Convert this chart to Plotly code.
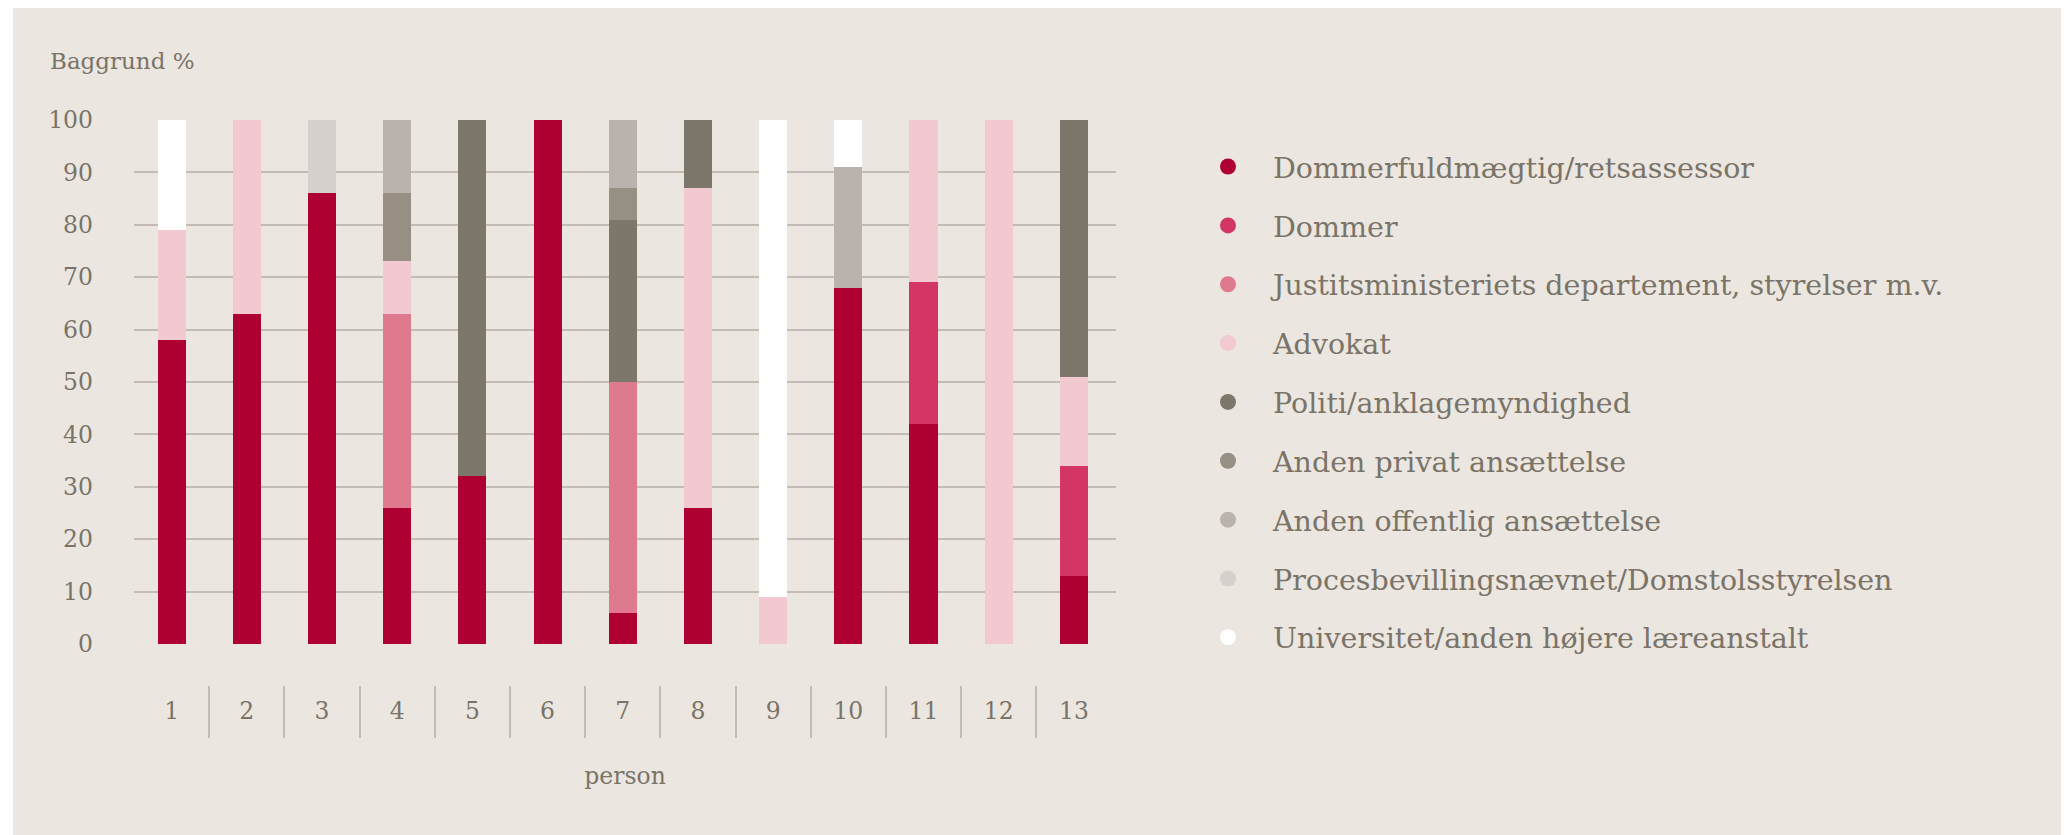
import plotly.graph_objects as go

persons = [1, 2, 3, 4, 5, 6, 7, 8, 9, 10, 11, 12, 13]
tick_labels = ["1", "2", "3", "4", "5", "6", "7", "8", "9", "10", "11", "12", "13"]

series_names = [
    "Dommerfuldmægtig/retsassessor",
    "Dommer",
    "Justitsministeriets departement, styrelser m.v.",
    "Advokat",
    "Politi/anklagemyndighed",
    "Anden privat ansættelse",
    "Anden offentlig ansættelse",
    "Procesbevillingsnævnet/Domstolsstyrelsen",
    "Universitet/anden højere læreanstalt",
]

dommerfuldmaegtig = [58, 63, 86, 26, 32, 100, 6, 26, 0, 68, 42, 0, 13]
dommer = [0, 0, 0, 0, 0, 0, 0, 0, 0, 0, 27, 0, 21]
justitsministeriet = [0, 0, 0, 37, 0, 0, 44, 0, 0, 0, 0, 0, 0]
advokat = [21, 37, 0, 10, 0, 0, 0, 61, 9, 0, 31, 100, 17]
politi = [0, 0, 0, 0, 68, 0, 31, 13, 0, 0, 0, 0, 49]
anden_privat = [0, 0, 0, 13, 0, 0, 6, 0, 0, 0, 0, 0, 0]
anden_offentlig = [0, 0, 0, 14, 0, 0, 13, 0, 0, 23, 0, 0, 0]
procesbevilling = [0, 0, 14, 0, 0, 0, 0, 0, 0, 0, 0, 0, 0]
universitet = [21, 0, 0, 0, 0, 0, 0, 0, 91, 9, 0, 0, 0]

series_values = [dommerfuldmaegtig, dommer, justitsministeriet, advokat, politi,
                 anden_privat, anden_offentlig, procesbevilling, universitet]

colors = ["#AF0032", "#D33665", "#DF7A8E", "#F2C9D0", "#7D766A",
          "#988F84", "#BAB3AD", "#D5D0CC", "#FFFFFF"]

W, H = 2069, 835
BG = "#EBE6E0"
TXT = "#7A7468"
GRID = "#C2BCB5"
FONT = "Georgia, 'DejaVu Serif', serif"

# plot area in figure pixels
PL, PR, PT, PB = 126, 1108, 112, 636
AX2 = 730  # divider axis line (bottom of plotting paper)
XRANGE = [0.5, 13.56]

fig = go.Figure()

for name, vals, col in zip(series_names, series_values, colors):
    fig.add_trace(go.Bar(
        x=persons, y=vals, name=name, marker=dict(color=col, line=dict(width=0)),
        showlegend=False, hoverinfo="skip", xaxis="x", yaxis="y"))

for i, (name, col) in enumerate(zip(series_names, colors)):
    fig.add_trace(go.Scatter(
        x=[None], y=[None], mode="markers", name=name, legendgroup=f"g{i}",
        marker=dict(color=col, size=19, symbol="circle", line=dict(width=0)),
        showlegend=True, hoverinfo="skip"))

# invisible helper trace on the divider axis
fig.add_trace(go.Scatter(x=[None], y=[None], xaxis="x2", yaxis="y",
                         showlegend=False, hoverinfo="skip"))

plot_h = AX2 - PT
ydom0 = (AX2 - PB) / plot_h

fig.update_layout(
    width=W, height=H,
    barmode="stack", bargap=0.627,
    paper_bgcolor="white", plot_bgcolor="rgba(0,0,0,0)",
    margin=dict(l=PL, r=W - PR, t=PT, b=H - AX2, pad=0),
    font=dict(family=FONT, color=TXT, size=23),
    title=dict(text="Baggrund %", x=42 / W, xref="container", xanchor="left",
               y=1 - 53 / H, yref="container", yanchor="middle",
               font=dict(family=FONT, color=TXT, size=23)),
    xaxis=dict(range=XRANGE, tickmode="array", tickvals=persons,
               ticktext=tick_labels, showgrid=False, zeroline=False, showline=False,
               ticks="", ticklabelstandoff=50, tickfont=dict(size=23.5, color=TXT),
               title=dict(text="person", standoff=43.5, font=dict(size=23.5, color=TXT)),
               anchor="y"),
    xaxis2=dict(range=XRANGE, overlaying="x", anchor="free", position=0,
                side="bottom", tickmode="array",
                tickvals=[p + 0.5 for p in persons[:-1]],
                ticks="inside", ticklen=52, tickwidth=1.5, tickcolor=GRID,
                showticklabels=False, showgrid=False, zeroline=False, showline=False),
    yaxis=dict(domain=[ydom0, 1], range=[0, 100], tickmode="linear", tick0=0, dtick=10,
               showgrid=True, gridcolor=GRID, gridwidth=1.5, zeroline=False,
               showline=False, ticks="", ticklabelstandoff=40,
               tickfont=dict(size=23.5, color=TXT)),
    legend=dict(xref="container", yref="container", x=1175 / W, xanchor="left",
                y=1 - 133.5 / H, yanchor="top", bgcolor="rgba(0,0,0,0)",
                font=dict(family=FONT, size=28.5, color=TXT), maxheight=790,
                tracegroupgap=18.8, itemwidth=80, itemclick=False, itemdoubleclick=False),
    shapes=[dict(type="rect", xref="paper", yref="paper", layer="below",
                 x0=(5 - PL) / (PR - PL), x1=(2056 - PL) / (PR - PL),
                 y0=(AX2 - H - 20) / plot_h, y1=(AX2 - 0) / plot_h,
                 fillcolor=BG, line=dict(width=0))],
)

fig.write_html("out.html")
